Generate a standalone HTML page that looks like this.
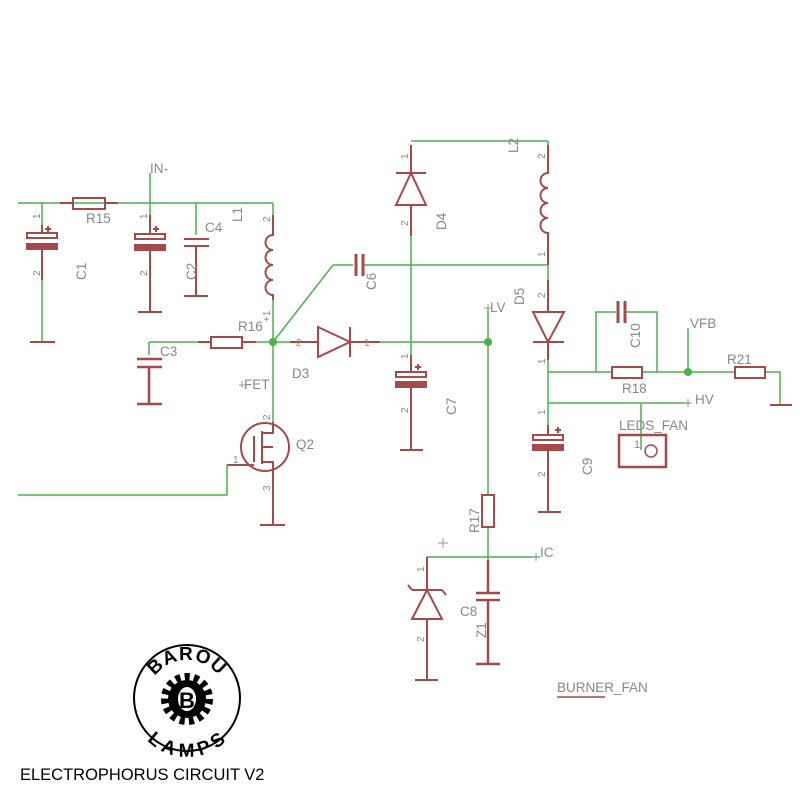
<!DOCTYPE html>
<html><head><meta charset="utf-8"><style>html,body{margin:0;padding:0;background:#fff}svg{display:block}</style></head><body>
<svg width="800" height="800" viewBox="0 0 800 800" xmlns="http://www.w3.org/2000/svg" font-family="Liberation Sans, sans-serif">
<g stroke="#4cb04c" stroke-width="1.5" fill="none">
<path d="M18 203H273M150 173V203M42 203V225M42 280V342M150 203V225M150 262V312M196 203V235M196 252V296M273 203V215M273 300V422M273 342L333 265H353M363 265H548M411 141H548M411 236V360M149 342H211M242 342H318M350 342H488M149 342V355M149 372V404M488 308V495M488 527V590M427 557H540M427 557V588M427 622V680M488 605V664M227 465V495H18M548 141V170M548 240V312M548 342V430M548 455V512M548 372H612M642 372H735M596 372V312H616M626 312H657V372M688 328V372M548 403H690M641 403V450M765 372H780V405M411 390V450"/>
</g>
<g stroke="#a54a4a" stroke-width="2" fill="none">
<rect x="27" y="233" width="30" height="5"/><rect x="27" y="244" width="30" height="5" fill="#a54a4a"/><path d="M42 225V233M42 249V280M30 342H55M45 229h6M48 226v6"/>
<rect x="135" y="234" width="30" height="5"/><rect x="135" y="245" width="30" height="5" fill="#a54a4a"/><path d="M150 215V234M150 250V312M138 312H162M153 229h6M156 226v6"/>
<path d="M184 239H209M184 246H209M196 246V296M184 296H208"/>
<rect x="73" y="198" width="32" height="11"/><path d="M60 203H73M105 203H118"/>
<path d="M273 215V235 a7.5 7.5 0 0 0 0 15 a7.5 7.5 0 0 0 0 15 a7.5 7.5 0 0 0 0 15 a7.5 7.5 0 0 0 0 15 V300"/>
<path d="M356 254V276M363 254V276" stroke-width="3"/>
<rect x="211" y="337" width="31" height="11"/><path d="M198 342H211M242 342H256"/>
<path d="M137 359H162M137 367H162M149 367V404M137 404H162" stroke-width="2.5"/>
<path d="M318 327L350 342L318 357Z M350 327V357M290 342H318M350 342H380"/>
<circle cx="265" cy="447" r="24"/><path d="M273 422V433H262M262 431V464M254 436V462M227 465H254M262 447H273M262 462H273V475M273 475V525M260 525H285"/>
<path d="M396 173H426M411 173L396 205H426Z M411 145V173M411 205V236"/>
<rect x="396" y="372" width="30" height="5"/><rect x="396" y="382" width="30" height="5" fill="#a54a4a"/><path d="M411 355V372M411 387V450M400 450H423M415 367h6M418 364v6"/>
<rect x="482" y="495" width="12" height="32"/>
<path d="M476 593H500M476 600H500M488 560V593M488 600V664M476 664H500" stroke-width="2.5"/>
<path d="M412 590H442M412 590L408 585M442 590L446 595M427 590L412 619H442Z M427 557V590M427 619V680M415 680H438"/>
<path d="M548 145V173 a7.5 7.5 0 0 0 0 15 a7.5 7.5 0 0 0 0 15 a7.5 7.5 0 0 0 0 15 a7.5 7.5 0 0 0 0 15 V265"/>
<path d="M533 312H564L548 342Z M533 342H564M548 280V312M548 342V360"/>
<rect x="533" y="435" width="30" height="5"/><rect x="533" y="445" width="30" height="5" fill="#a54a4a"/><path d="M548 425V435M548 450V512M538 512H561M555 430h6M558 427v6"/>
<path d="M618 301V323M625 301V323" stroke-width="3"/>
<rect x="612" y="367" width="30" height="11"/><rect x="735" y="367" width="30" height="11"/>
<path d="M770 405H792"/>
<rect x="619" y="435" width="47" height="32" stroke-width="2.5"/><circle cx="651" cy="451" r="6" stroke-width="1.5"/>
<path d="M557 697H605" stroke-width="1.5"/>
</g>
<g fill="#4cb04c"><circle cx="273" cy="342" r="4"/><circle cx="488" cy="342" r="4"/><circle cx="688" cy="372" r="4"/></g>
<g fill="#888" font-size="13.5">
<text x="150" y="173">IN-</text><text x="86" y="223">R15</text><text x="205" y="232">C4</text>
<text x="238" y="331">R16</text><text x="160" y="356">C3</text><text x="292" y="378">D3</text><text x="244" y="389">FET</text>
<text x="296" y="449">Q2</text><text x="490" y="312">LV</text><text x="690" y="328">VFB</text><text x="727" y="364">R21</text>
<text x="622" y="393">R18</text><text x="695" y="404">HV</text><text x="619" y="430">LEDS_FAN</text><text x="540" y="557">IC</text>
<text x="557" y="692">BURNER_FAN</text><text x="460" y="616">C8</text><text x="634" y="448" font-size="11">1</text>
<text transform="translate(86,280) rotate(-90)">C1</text><text transform="translate(196,280) rotate(-90)">C2</text>
<text transform="translate(242,222) rotate(-90)">L1</text><text transform="translate(376,290) rotate(-90)">C6</text>
<text transform="translate(446,230) rotate(-90)">D4</text><text transform="translate(518,153) rotate(-90)">L2</text>
<text transform="translate(524,305) rotate(-90)">D5</text><text transform="translate(456,415) rotate(-90)">C7</text>
<text transform="translate(592,475) rotate(-90)">C9</text><text transform="translate(640,348) rotate(-90)">C10</text>
<text transform="translate(479,533) rotate(-90)">R17</text><text transform="translate(486,638) rotate(-90)">Z1</text>
</g>
<g fill="#888" font-size="10">
<text transform="translate(40,219) rotate(-90)">1</text><text transform="translate(40,276) rotate(-90)">2</text>
<text transform="translate(147,219) rotate(-90)">1</text><text transform="translate(147,276) rotate(-90)">2</text>
<text transform="translate(270,222) rotate(-90)">2</text><text transform="translate(270,322) rotate(-90)">+1</text>
<text x="296" y="346">2</text><text x="364" y="346">1</text><text x="233" y="463">1</text>
<text transform="translate(270,420) rotate(-90)">2</text><text transform="translate(270,491) rotate(-90)">3</text>
<text transform="translate(408,159) rotate(-90)">1</text><text transform="translate(408,226) rotate(-90)">2</text>
<text transform="translate(408,359) rotate(-90)">1</text><text transform="translate(408,413) rotate(-90)">2</text>
<text transform="translate(545,159) rotate(-90)">2</text><text transform="translate(545,257) rotate(-90)">1</text>
<text transform="translate(545,298) rotate(-90)">2</text><text transform="translate(545,364) rotate(-90)">1</text>
<text transform="translate(545,415) rotate(-90)">1</text><text transform="translate(545,477) rotate(-90)">2</text>
<text transform="translate(424,572) rotate(-90)">1</text><text transform="translate(424,642) rotate(-90)">2</text>
</g>
<g stroke="#999" stroke-width="1"><path d="M438 543h10M443 538v10M484 308h8M488 304v8M684 403h8M688 399v8M532 557h8M536 553v8M239 385h7M242 381v7"/></g>
<g>
<circle cx="187" cy="698" r="53" fill="none" stroke="#000" stroke-width="2"/>
<defs><path id="ta" d="M147 700 A40 40 0 0 1 227 700"/><path id="tb" d="M143 700 A44 44 0 0 0 231 700"/></defs>
<text font-size="19" font-weight="bold" fill="#000" text-anchor="middle" letter-spacing="1"><textPath href="#ta" startOffset="50%">BAROU</textPath></text>
<text font-size="19" font-weight="bold" fill="#000" text-anchor="middle" letter-spacing="1"><textPath href="#tb" startOffset="50%" dominant-baseline="hanging">LAMPS</textPath></text>
<circle cx="187" cy="699" r="22" fill="none" stroke="#000" stroke-width="8" stroke-dasharray="5 4.2"/>
<circle cx="187" cy="699" r="19" fill="#000"/>
<ellipse cx="187" cy="699" rx="10" ry="13" fill="#fff" stroke="#000" stroke-width="2"/>
<text x="187" y="708" font-size="22" font-weight="bold" text-anchor="middle" fill="#000">B</text>
</g>
<text x="20" y="780" font-size="16.5" fill="#000">ELECTROPHORUS CIRCUIT V2</text>
</svg>
</body></html>
